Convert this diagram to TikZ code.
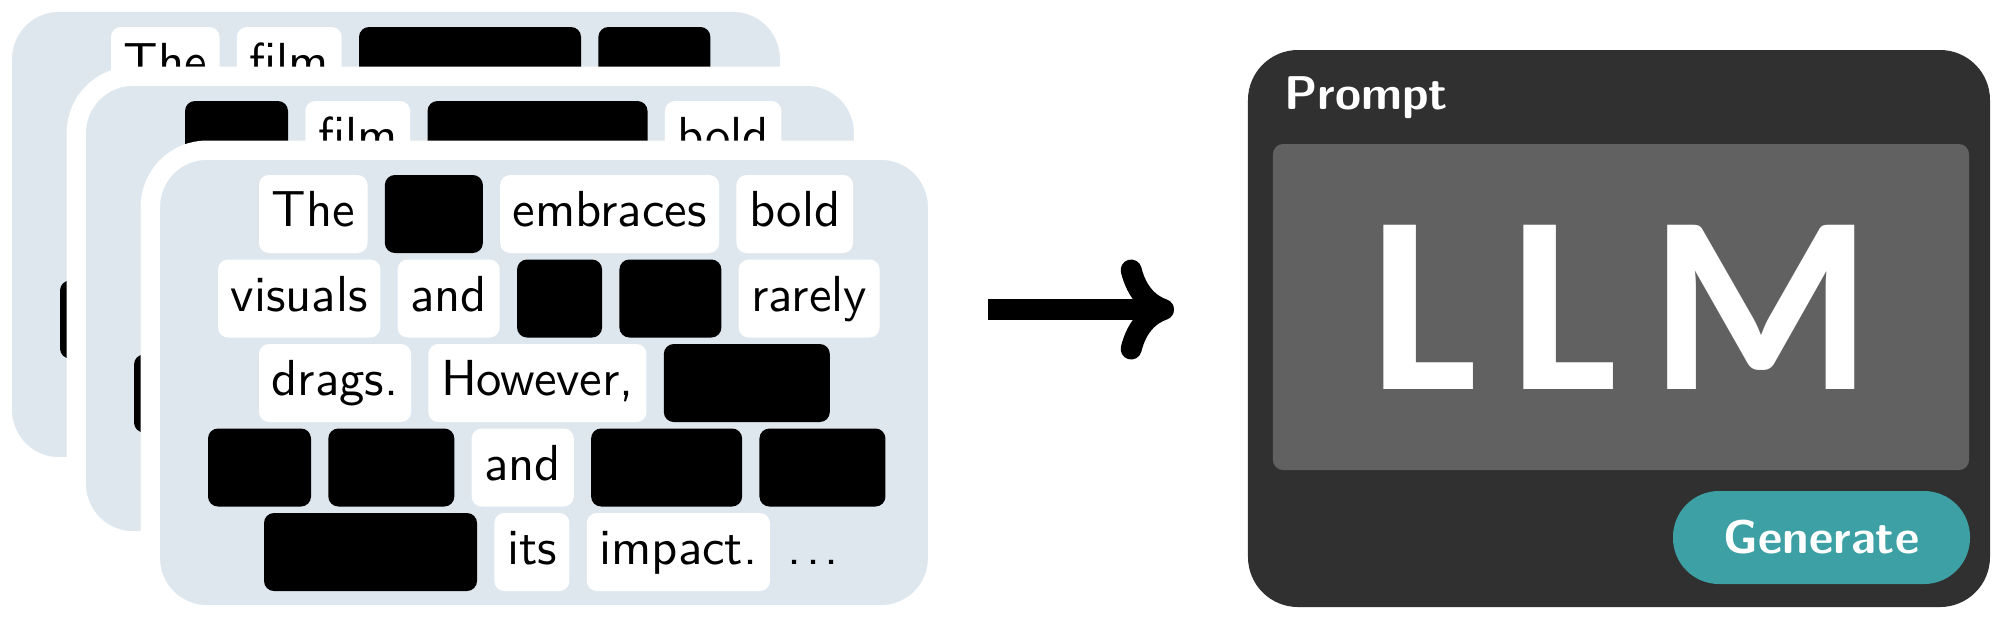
\documentclass[tikz,border=0pt]{standalone}
\usepackage{fontspec}
\newfontfamily\wordfont{lmsans10-regular.otf}
\newfontfamily\llmfont{Carlito}[LetterSpace=13]
\usetikzlibrary{positioning,arrows.meta}
\definecolor{cardblue}{HTML}{DFE7EE}
\definecolor{paneldark}{HTML}{303030}
\definecolor{screengray}{HTML}{616161}
\definecolor{buttonteal}{HTML}{3CA0A4}
\tikzset{
  card/.style={draw=white, line width=2.9pt, fill=cardblue, rounded corners=8.5pt,
    minimum width=118.1pt, minimum height=69.7pt, inner sep=0pt},
  word/.style={fill=white, rounded corners=1.5pt, inner xsep=1.9pt, inner ysep=1.95pt,
    text height=5.8pt, text depth=2pt, outer sep=0pt,
    font=\wordfont\fontsize{7.6}{9}\selectfont},
  masked/.style={word, fill=black, minimum width=#1},
  plain/.style={word, fill=none, inner xsep=0pt},
  label/.style={text=white, inner sep=0pt, font=\sffamily\bfseries\fontsize{7.1}{8}\selectfont},
  flow/.style={line width=3.15pt, -{Computer Modern Rightarrow[length=8pt,width=15pt]}},
}
\begin{document}
\begin{tikzpicture}[x=0.15pt, y=-0.15pt, node distance=2.6pt]
\useasboundingbox (0,0) rectangle (1999,622);

% back card
\node[card] (card1) at (396,234.5) {};
\node[word, anchor=west] (c1r1a) at (111,66) {The};
\node[word, right=of c1r1a] (c1r1b) {film};
\node[masked=33.3pt, right=of c1r1b] (c1r1c) {};
\node[masked=16.8pt, right=of c1r1c] (c1r1d) {};
\node[masked=15.45pt, anchor=west] (c1r4a) at (60,319.5) {};

% middle card
\node[card] (card2) at (470,308.5) {};
\node[masked=15.45pt, anchor=west] (c2r1a) at (185,140) {};
\node[word, right=of c2r1a] (c2r1b) {film};
\node[masked=33pt, right=of c2r1b] (c2r1c) {};
\node[word, right=of c2r1c] (c2r1d) {bold};
\node[masked=15.45pt, anchor=west] (c2r4a) at (134,393.5) {};

% front card
\node[card] (card3) at (544,382.5) {};
\node[word, anchor=west] (c3r1a) at (259,214) {The};
\node[masked=14.7pt, right=of c3r1a] (c3r1b) {};
\node[word, right=of c3r1b] (c3r1c) {embraces};
\node[word, right=of c3r1c] (c3r1d) {bold};

\node[word, anchor=west] (c3r2a) at (218,298.5) {visuals};
\node[word, right=of c3r2a] (c3r2b) {and};
\node[masked=12.75pt, right=of c3r2b] (c3r2c) {};
\node[masked=15.3pt, right=of c3r2c] (c3r2d) {};
\node[word, right=of c3r2d] (c3r2e) {rarely};

\node[word, anchor=west] (c3r3a) at (259,383) {drags.};
\node[word, right=of c3r3a] (c3r3b) {However,};
\node[masked=24.9pt, right=of c3r3b] (c3r3c) {};

\node[masked=15.45pt, anchor=west] (c3r4a) at (208,467.5) {};
\node[masked=18.9pt, right=of c3r4a] (c3r4b) {};
\node[word, right=of c3r4b] (c3r4c) {and};
\node[masked=22.65pt, right=of c3r4c] (c3r4d) {};
\node[masked=18.9pt, right=of c3r4d] (c3r4e) {};

\node[masked=31.95pt, anchor=west] (c3r5a) at (264,552) {};
\node[word, right=of c3r5a] (c3r5b) {its};
\node[word, right=of c3r5b] (c3r5c) {impact.};
\node[plain, right=of c3r5c] (c3r5d) {.\kern0.7pt.\kern0.7pt.};

% arrow
\coordinate (arrowstart) at (988,309.5);
\coordinate (arrowend) at (1174,309.5);
\draw[flow] (arrowstart) -- (arrowend);

% model panel
\node[fill=paneldark, rounded corners=7.5pt, minimum width=111.3pt,
  minimum height=83.55pt, inner sep=0pt] (panel) at (1619,328.5) {};
\node[label, anchor=base west] (prompt) at (1283,109) {Prompt};
\node[fill=screengray, rounded corners=1.5pt, minimum width=104.4pt,
  minimum height=48.9pt, inner sep=0pt] (screen) at (1621,307) {};
\node[text=white, inner sep=0pt, font=\llmfont\bfseries\fontsize{38}{38}\selectfont]
  (llm) at (screen) {LLM};
\node[fill=buttonteal, rounded corners=6.9pt, minimum width=44.55pt,
  minimum height=13.95pt, inner sep=0pt] (button) at (1821.5,537.5) {};
\node[label] (generate) at (button) {Generate};
\end{tikzpicture}
\end{document}
